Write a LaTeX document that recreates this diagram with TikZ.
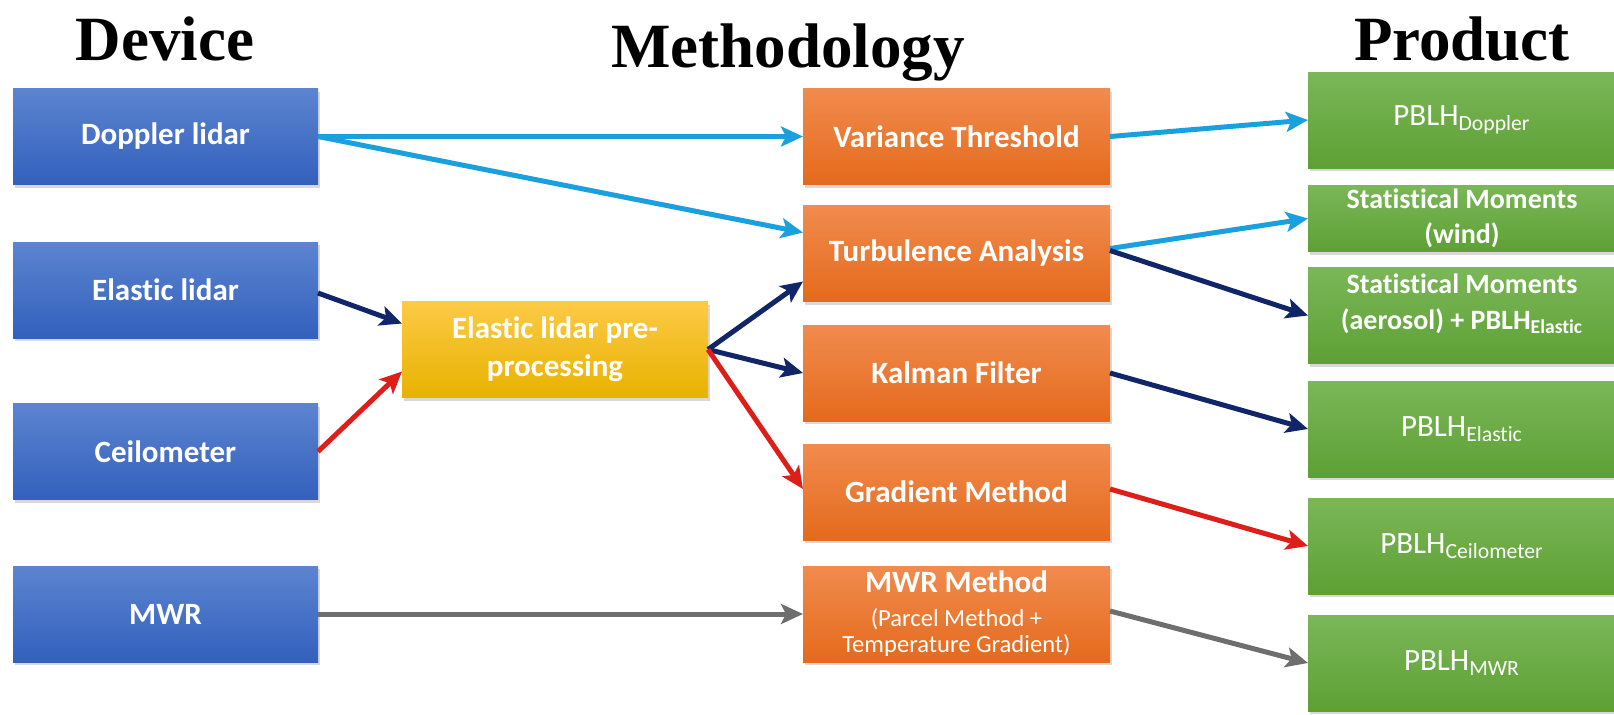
\documentclass[tikz,border=0pt]{standalone}
\usepackage{fontspec}
\setmainfont{Carlito}[Ligatures=NoCommon]
\newfontfamily\titlefont{Liberation Serif}
\usetikzlibrary{arrows.meta, shadows, calc}
\definecolor{devtop}{RGB}{92,132,208}
\definecolor{devbot}{RGB}{50,96,188}
\definecolor{mettop}{RGB}{241,139,78}
\definecolor{metbot}{RGB}{228,106,28}
\definecolor{pretop}{RGB}{252,202,70}
\definecolor{prebot}{RGB}{232,178,0}
\definecolor{protop}{RGB}{122,183,88}
\definecolor{probot}{RGB}{94,160,52}
\definecolor{skyline}{RGB}{27,160,222}
\definecolor{navyline}{RGB}{16,38,104}
\definecolor{redline}{RGB}{222,30,24}
\definecolor{grayline}{RGB}{110,110,110}
\newcommand\notefont{\fontsize{12.3}{13}\selectfont\mdseries}
\tikzset{
    box/.style={rectangle, minimum height=48pt, align=center, text=white, font=\fontsize{15.5}{19}\selectfont\bfseries, inner sep=2pt, outer sep=0pt, drop shadow={shadow xshift=1pt, shadow yshift=-1.5pt, opacity=0.3}},
    device/.style={box, minimum width=152.5pt, top color=devtop, bottom color=devbot},
    prep/.style={box, minimum width=153pt, top color=pretop, bottom color=prebot},
    method/.style={box, minimum width=153.5pt, top color=mettop, bottom color=metbot},
    product/.style={box, minimum width=154pt, top color=protop, bottom color=probot, font=\fontsize{15.5}{19}\selectfont},
    title/.style={anchor=base, font=\titlefont\fontsize{31.5}{36}\selectfont\bfseries},
    arrow/.style={line width=2.5pt, -{Stealth[length=11pt, width=10pt, inset=2.5pt]}}
}

\begin{document}
\begin{tikzpicture}[x=0.5pt, y=-0.5pt]
\useasboundingbox[fill=white] (0,0) rectangle (1614,714);
% column titles
\node[title] (tdev) at (165,60) {Device};
\node[title] (tmet) at (788,67) {Methodology};
\node[title] (tpro) at (1462,60) {Product};
% devices
\node[device] (dop) at (165.5,136.5) {Doppler lidar};
\node[device] (elas) at (165.5,290) {Elastic lidar};
\node[device] (ceil) at (165.5,451.5) {Ceilometer};
\node[device] (mwr) at (165.5,614) {MWR};
% pre-processing
\node[prep] (pre) at (555,349.5) {Elastic lidar pre-\\processing};
% methods
\node[method] (vart) at (956.5,136.5) {Variance Threshold};
\node[method] (turb) at (956.5,253.5) {Turbulence Analysis};
\node[method] (kalm) at (956.5,373) {Kalman Filter};
\node[method] (grad) at (956.5,492) {Gradient Method};
\node[method] (mwrm) at (956.5,614) {MWR Method\\[-2pt]{\notefont (Parcel Method +}\\[-6pt]{\notefont Temperature Gradient)}};
% products
\node[product] (pbdop) at (1462,120) {PBLH\textsubscript{Doppler}};
\node[product, minimum height=31.5pt, font=\fontsize{14}{17.5}\selectfont\bfseries] (smwind) at (1462,218.5) {Statistical Moments\\(wind)};
\node[product, font=\fontsize{14}{18}\selectfont\bfseries, text depth=14pt] (smaer) at (1462,315.5) {Statistical Moments\\(aerosol) + PBLH\textsubscript{Elastic}};
\node[product] (pbel) at (1462,429) {PBLH\textsubscript{Elastic}};
\node[product] (pbceil) at (1462,546) {PBLH\textsubscript{Ceilometer}};
\node[product] (pbmwr) at (1462,663) {PBLH\textsubscript{MWR}};
% connectors
\draw[arrow, skyline] (dop.east) -- (vart.west);
\draw[arrow, skyline] (dop.east) -- ($(turb.west)+(0,-21)$);
\draw[arrow, skyline] (vart.east) -- (pbdop.west);
\draw[arrow, skyline] ($(turb.east)+(0,-5)$) -- (smwind.west);
\draw[arrow, navyline] ($(turb.east)+(0,-3)$) -- (smaer.west);
\draw[arrow, navyline] ($(elas.east)+(0,3)$) -- ($(pre.west)+(0,-26)$);
\draw[arrow, redline] (ceil.east) -- ($(pre.west)+(0,22)$);
\draw[arrow, navyline] (pre.east) -- ($(turb.west)+(0,28)$);
\draw[arrow, navyline] (pre.east) -- (kalm.west);
\draw[arrow, redline] (pre.east) -- ($(grad.west)+(0,-3)$);
\draw[arrow, grayline] (mwr.east) -- (mwrm.west);
\draw[arrow, navyline] (kalm.east) -- (pbel.west);
\draw[arrow, redline] ($(grad.east)+(0,-3)$) -- (pbceil.west);
\draw[arrow, grayline] ($(mwrm.east)+(0,-3)$) -- (pbmwr.west);
\end{tikzpicture}
\end{document}
